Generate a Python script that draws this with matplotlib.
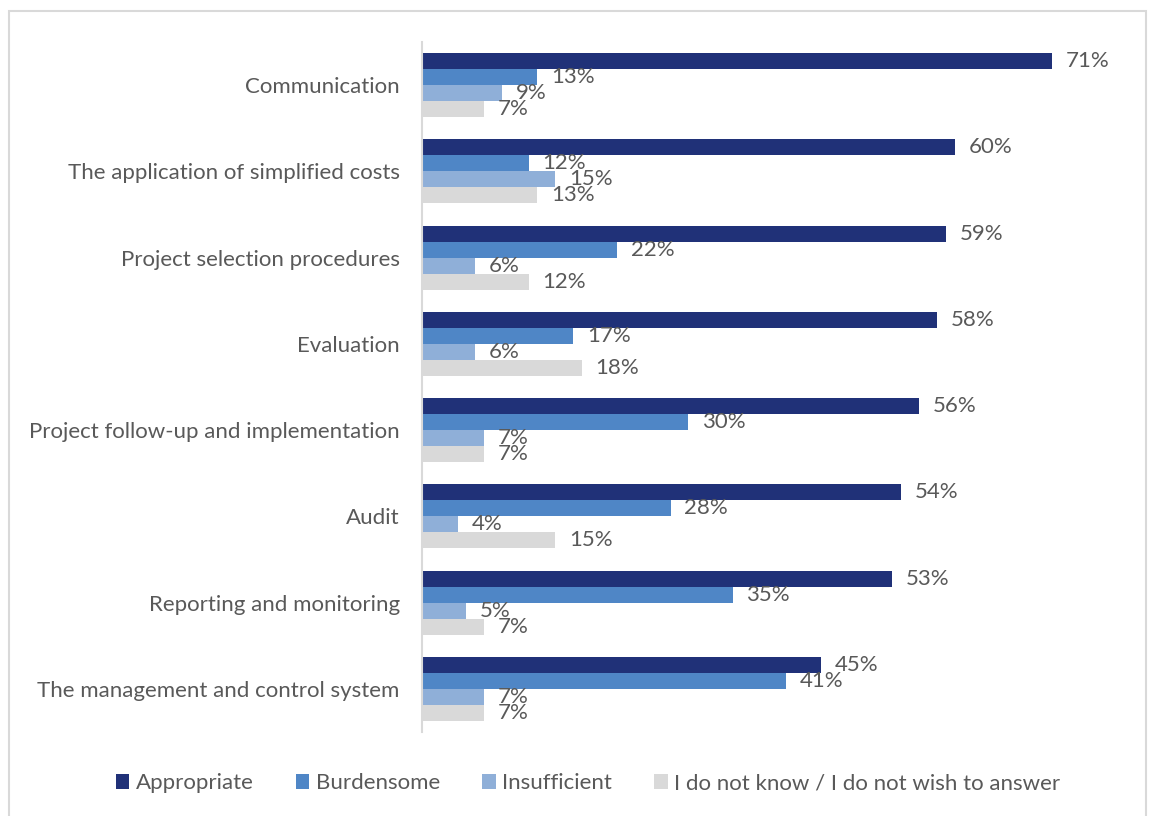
import matplotlib
matplotlib.use("Agg")
import matplotlib.pyplot as plt
from matplotlib.patches import Rectangle, Patch
import numpy as np

categories = [
    "Communication",
    "The application of simplified costs",
    "Project selection procedures",
    "Evaluation",
    "Project follow-up and implementation",
    "Audit",
    "Reporting and monitoring",
    "The management and control system",
]
series_names = ["Appropriate", "Burdensome", "Insufficient",
                "I do not know / I do not wish to answer"]
appropriate = [71, 60, 59, 58, 56, 54, 53, 45]
burdensome = [13, 12, 22, 17, 30, 28, 35, 41]
insufficient = [9, 15, 6, 6, 7, 4, 5, 7]
dont_know = [7, 13, 12, 18, 7, 15, 7, 7]

colors = ["#203178", "#4F86C6", "#8FAFD8", "#D9D9D9"]
text_color = "#595959"

plt.rcParams["font.family"] = ["Lato", "DejaVu Sans"]
fs = 16

fig = plt.figure(figsize=(11.51, 8.16), dpi=100)
ax = fig.add_axes([422 / 1151, 84 / 816, 710 / 1151, 690 / 816])

series = [appropriate, burdensome, insufficient, dont_know]
n = len(categories)
y = np.arange(n)
bh = 0.186
for k, (vals, col) in enumerate(zip(series, colors)):
    pos = y + (k - 1.5) * bh
    ax.barh(pos, vals, height=bh, color=col, label=series_names[k])
    for p, v in zip(pos, vals):
        ax.annotate(f"{v}%", xy=(v, p), xytext=(10, 0), textcoords="offset points",
                    va="center", ha="left", fontsize=fs, color=text_color)

ax.set_ylim(n - 0.5, -0.5)
ax.set_xlim(0, 80)
ax.set_yticks(y)
ax.set_yticklabels(categories, fontsize=fs, color=text_color)
ax.tick_params(axis="y", length=0, pad=16)
ax.set_xticks([])
for s in ["top", "right", "bottom"]:
    ax.spines[s].set_visible(False)
ax.spines["left"].set_color("#D9D9D9")
ax.spines["left"].set_linewidth(1.5)

handles = [Patch(facecolor=c, edgecolor="none") for c in colors]
fig.legend(handles, series_names, loc="center", bbox_to_anchor=(0.511, 0.040),
           ncol=4, frameon=False, fontsize=fs, labelcolor=text_color,
           handlelength=0.6, handleheight=0.6, handletextpad=0.3,
           columnspacing=1.9)

# outer chart border
fig.patches.append(Rectangle((9 / 1151, -0.02), 1137 / 1151, (816 - 11) / 816 + 0.02,
                             transform=fig.transFigure, fill=False,
                             edgecolor="#D9D9D9", linewidth=1.5))

fig.savefig("out.png", dpi=100)
